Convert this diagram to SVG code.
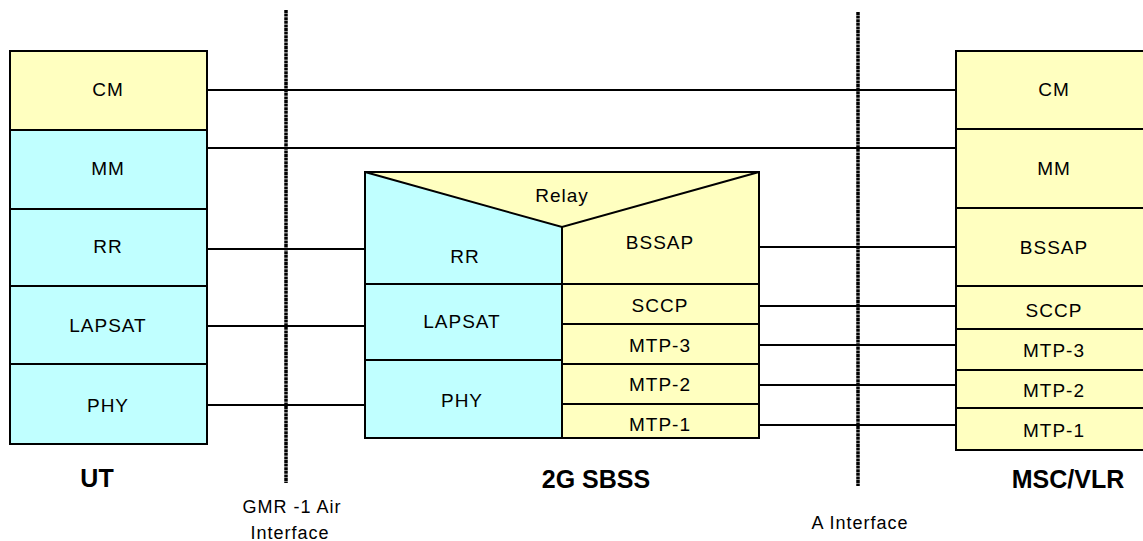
<svg xmlns="http://www.w3.org/2000/svg" width="1143" height="541" viewBox="0 0 1143 541">
<style>
.y{fill:#FFFFC0;stroke:#000;stroke-width:2}
.c{fill:#C0FFFF;stroke:#000;stroke-width:2}
.t{font-family:"Liberation Sans",Arial,sans-serif;font-size:19px;letter-spacing:1px;text-anchor:middle;fill:#000}
.b{font-family:"Liberation Sans",Arial,sans-serif;font-size:25px;font-weight:bold;text-anchor:middle;fill:#000}
.i{font-family:"Liberation Sans",Arial,sans-serif;font-size:18px;letter-spacing:1px;text-anchor:middle;fill:#000}
.ln{stroke:#000;stroke-width:2;fill:none}
.dl{stroke:#000;stroke-width:3.5;stroke-dasharray:3 0.6;fill:none}
</style>
<rect width="1143" height="541" fill="#fff"/>
<g id="interfaces">
<line class="dl" x1="286" y1="10" x2="286" y2="483"/>
<line class="dl" x1="858" y1="12" x2="858" y2="486"/>
</g>
<g id="connectors">
<line class="ln" x1="207" y1="90" x2="956" y2="90"/>
<line class="ln" x1="207" y1="148" x2="956" y2="148"/>
<line class="ln" x1="207" y1="249" x2="365" y2="249"/>
<line class="ln" x1="207" y1="326" x2="365" y2="326"/>
<line class="ln" x1="207" y1="405" x2="365" y2="405"/>
<line class="ln" x1="759" y1="247" x2="956" y2="247"/>
<line class="ln" x1="759" y1="306" x2="956" y2="306"/>
<line class="ln" x1="759" y1="345" x2="956" y2="345"/>
<line class="ln" x1="759" y1="385" x2="956" y2="385"/>
<line class="ln" x1="759" y1="425" x2="956" y2="425"/>
</g>
<g id="ut">
<rect class="y" x="10" y="51" width="197" height="79"/>
<rect class="c" x="10" y="130" width="197" height="79"/>
<rect class="c" x="10" y="209" width="197" height="77"/>
<rect class="c" x="10" y="286" width="197" height="78"/>
<rect class="c" x="10" y="364" width="197" height="80"/>
<text class="t" x="108" y="96">CM</text>
<text class="t" x="108" y="175">MM</text>
<text class="t" x="108" y="253">RR</text>
<text class="t" x="108" y="332">LAPSAT</text>
<text class="t" x="108" y="412">PHY</text>
<text class="b" x="97" y="487">UT</text>
</g>
<g id="sbss">
<rect class="c" x="365" y="172" width="197" height="112"/>
<rect class="y" x="562" y="172" width="197" height="112"/>
<polygon class="y" points="365,172 759,172 562,227"/>
<line class="ln" x1="562" y1="227" x2="562" y2="284"/>
<rect class="c" x="365" y="284" width="197" height="76"/>
<rect class="c" x="365" y="360" width="197" height="78"/>
<rect class="y" x="562" y="284" width="197" height="40"/>
<rect class="y" x="562" y="324" width="197" height="40"/>
<rect class="y" x="562" y="364" width="197" height="40"/>
<rect class="y" x="562" y="404" width="197" height="34"/>
<text class="t" x="562" y="202">Relay</text>
<text class="t" x="465" y="263">RR</text>
<text class="t" x="462" y="328">LAPSAT</text>
<text class="t" x="462" y="407">PHY</text>
<text class="t" x="660" y="249">BSSAP</text>
<text class="t" x="660" y="312">SCCP</text>
<text class="t" x="660" y="352">MTP-3</text>
<text class="t" x="660" y="391">MTP-2</text>
<text class="t" x="660" y="431">MTP-1</text>
<text class="b" x="596" y="488">2G SBSS</text>
</g>
<g id="msc">
<rect class="y" x="956" y="51" width="197" height="78"/>
<rect class="y" x="956" y="129" width="197" height="79"/>
<rect class="y" x="956" y="208" width="197" height="78"/>
<rect class="y" x="956" y="286" width="197" height="43"/>
<rect class="y" x="956" y="329" width="197" height="41"/>
<rect class="y" x="956" y="370" width="197" height="38"/>
<rect class="y" x="956" y="408" width="197" height="42"/>
<text class="t" x="1054" y="96">CM</text>
<text class="t" x="1054" y="175">MM</text>
<text class="t" x="1054" y="254">BSSAP</text>
<text class="t" x="1054" y="317">SCCP</text>
<text class="t" x="1054" y="357">MTP-3</text>
<text class="t" x="1054" y="397">MTP-2</text>
<text class="t" x="1054" y="437">MTP-1</text>
<text class="b" x="1068" y="488">MSC/VLR</text>
</g>
<g id="labels">
<text class="i" x="292" y="513">GMR -1 Air</text>
<text class="i" x="290" y="539">Interface</text>
<text class="i" x="860" y="529">A Interface</text>
</g>
</svg>
